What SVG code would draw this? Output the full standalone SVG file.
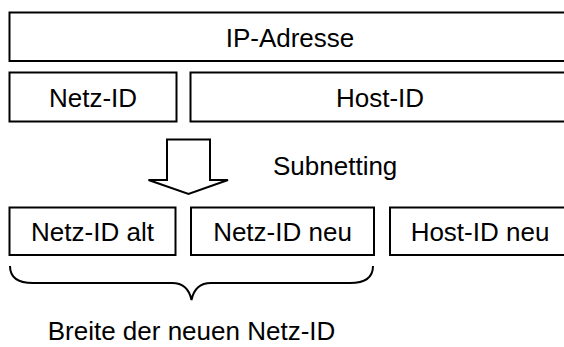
<svg xmlns="http://www.w3.org/2000/svg" width="564" height="347" viewBox="0 0 564 347">
<style>
.box{fill:#fff;stroke:#000;stroke-width:2}
.t{font-family:"Liberation Sans",Arial,sans-serif;font-size:26px;fill:#000}
.c{text-anchor:middle}
.ln{fill:none;stroke:#000;stroke-width:2}
</style>
<rect width="564" height="347" fill="#fff"/>
<g id="ip-adresse"><rect class="box" x="9.5" y="12.5" width="561" height="48.5"/><text class="t c" x="290" y="47">IP-Adresse</text></g>
<g id="netz-id"><rect class="box" x="9.5" y="72.5" width="167" height="49"/><text class="t c" x="93" y="106.5">Netz-ID</text></g>
<g id="host-id"><rect class="box" x="190.5" y="72.5" width="380" height="49"/><text class="t c" x="380" y="106.5">Host-ID</text></g>
<g id="netz-id-alt"><rect class="box" x="9.5" y="207.5" width="166" height="47.5"/><text class="t c" x="92.5" y="241">Netz-ID alt</text></g>
<g id="netz-id-neu"><rect class="box" x="191" y="207.5" width="183" height="47.5"/><text class="t c" x="282.5" y="241">Netz-ID neu</text></g>
<g id="host-id-neu"><rect class="box" x="390" y="207.5" width="181" height="47.5"/><text class="t c" x="480" y="241">Host-ID neu</text></g>
<g id="connectors">
<polygon class="box" points="167,139.5 210,139.5 210,180 228,180 188.5,194 148.5,180 167,180"/>
<path class="ln" d="M10,266 Q10,283 33,283 L172,283 Q188,283 191.5,300 Q195,283 211,283 L350,283 Q373,283 373,266"/>
</g>
<g id="labels">
<text class="t" x="273" y="175">Subnetting</text>
<text class="t c" x="191.5" y="340">Breite der neuen Netz-ID</text>
</g>
</svg>
